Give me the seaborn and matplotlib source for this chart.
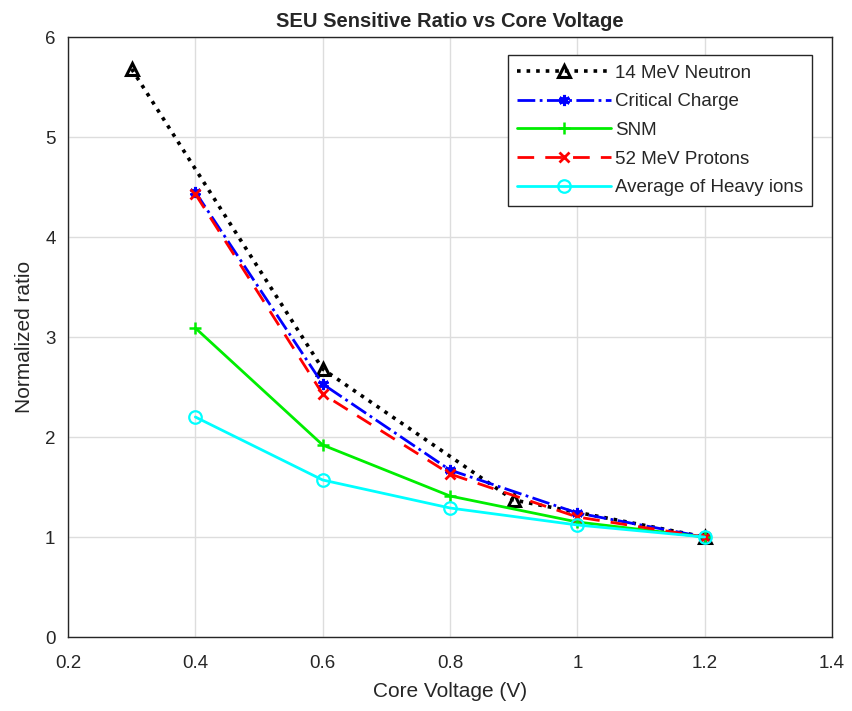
import pandas as pd
import numpy as np
import seaborn as sns
import matplotlib
matplotlib.use('Agg')
import matplotlib.pyplot as plt

# datos
volt_neutron = [0.3, 0.6, 0.9, 1.2]
neutron = [5.68, 2.68, 1.37, 1.0]

volt = [0.4, 0.6, 0.8, 1.0, 1.2]
critical_charge = [4.45, 2.53, 1.67, 1.24, 1.0]
snm = [3.09, 1.92, 1.41, 1.15, 1.0]
protons = [4.43, 2.43, 1.63, 1.20, 1.0]
heavy_ions = [2.20, 1.57, 1.29, 1.12, 1.0]

sns.set_style('whitegrid')
plt.rcParams['font.family'] = ['Liberation Sans', 'DejaVu Sans']

fig = plt.figure(figsize=(8.52, 7.11), dpi=100)
ax = fig.add_axes([68 / 852, 1 - 637 / 711, (832 - 68) / 852, (637 - 37) / 711])

series = [
    ('14 MeV Neutron', volt_neutron, neutron,
     dict(color='black', linestyle=':', marker='^', markersize=9, markerfacecolor='none',
          markeredgecolor='black', markeredgewidth=2.2, linewidth=2.6)),
    ('Critical Charge', volt, critical_charge,
     dict(color='blue', linestyle='-.', marker=(6, 2, 0), markersize=8, markeredgewidth=2.2,
          markeredgecolor='blue', linewidth=2)),
    ('SNM', volt, snm,
     dict(color='#00ee00', linestyle='-', marker='+', markersize=9, markeredgewidth=1.8,
          markeredgecolor='#00ee00', linewidth=2)),
    ('52 MeV Protons', volt, protons,
     dict(color='red', linestyle=(0, (6, 4)), marker='x', markersize=7, markeredgewidth=2,
          markeredgecolor='red', linewidth=2)),
    ('Average of Heavy ions', volt, heavy_ions,
     dict(color='cyan', linestyle='-', marker='o', markersize=9, markerfacecolor='none',
          markeredgecolor='cyan', markeredgewidth=1.6, linewidth=2)),
]

for nombre, x, y, estilo in series:
    df = pd.DataFrame({'x': x, 'y': y})
    sns.lineplot(data=df, x='x', y='y', ax=ax, label=nombre, **estilo)

ax.set_xlim(0.2, 1.4)
ax.set_ylim(0, 6)
ax.set_xticks(np.arange(0.2, 1.41, 0.2))
ax.set_xticklabels(['0.2', '0.4', '0.6', '0.8', '1', '1.2', '1.4'])
ax.set_yticks(range(0, 7))
ax.grid(True, color='#dddddd', linewidth=1)
for s in ax.spines.values():
    s.set_color('#262626')
    s.set_linewidth(1)
ax.tick_params(axis='both', labelsize=13.5, colors='#262626', direction='in', length=4)
ax.tick_params(axis='x', pad=13)
ax.tick_params(axis='y', pad=9)

ax.set_title('SEU Sensitive Ratio vs Core Voltage', fontsize=14.5, fontweight='bold', pad=7)
ax.set_xlabel('Core Voltage (V)', fontsize=15, color='#262626', labelpad=7)
ax.set_ylabel('Normalized ratio', fontsize=15, color='#262626', labelpad=8)

leg = ax.legend(loc='upper right', fontsize=13.5, fancybox=False, framealpha=1,
                edgecolor='#262626', handlelength=5, borderpad=0.5, labelspacing=0.62,
                handletextpad=0.2, borderaxespad=0, bbox_to_anchor=(0.974, 0.97))
leg.get_frame().set_linewidth(1)

plt.savefig('out.png', dpi=100)
plt.close()
